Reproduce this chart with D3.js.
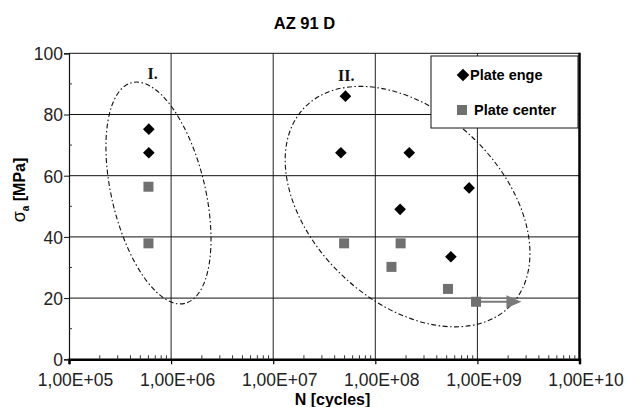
<!DOCTYPE html>
<html>
<head>
<meta charset="utf-8">
<script src="https://cdn.jsdelivr.net/npm/d3@7"></script>
<style>
  html, body { margin: 0; padding: 0; background: #fff; }
  svg { display: block; }
</style>
</head>
<body>
<svg id="chart" width="627" height="407"></svg>
<script>
// ---------------- data ----------------
const title = "AZ 91 D";
const xTickValues = [1e5, 1e6, 1e7, 1e8, 1e9, 1e10];
const xTickLabels = ["1,00E+05", "1,00E+06", "1,00E+07", "1,00E+08", "1,00E+09", "1,00E+10"];
const yTickValues = [0, 20, 40, 60, 80, 100];
const yMinorValues = [10, 30, 50, 70, 90];

const seriesNames = ["Plate enge", "Plate center"];
// Plate enge (diamonds)
const edgeN = [6.05e5, 6.05e5, 5.1e7, 4.6e7, 2.15e8, 1.75e8, 8.3e8, 5.5e8];
const edgeS = [75.2, 67.5, 86.0, 67.5, 67.5, 49.0, 56.0, 33.5];
// Plate center (squares)
const centerN = [6.0e5, 6.0e5, 4.95e7, 1.77e8, 1.44e8, 5.15e8, 9.7e8];
const centerS = [56.4, 37.9, 37.9, 37.9, 30.2, 23.0, 18.8];

// run-out arrow
const arrowN = [9.7e8, 2.7e9];
const arrowS = 18.8;

// grouping ellipses (bounding box in data units + N at topmost point)
const groupLabels = ["I.", "II."];
const groupLabelN = [6.6e5, 5.2e7];
const groupLabelS = [91.5, 91.0];
const ellNMin = [2.3e5, 1.31e7];
const ellNMax = [2.46e6, 3.27e9];
const ellSMin = [18.1, 10.6];
const ellSMax = [90.6, 89.2];
const ellNTop = [4.6e5, 7.1e7];

// ---------------- layout ----------------
const svg = d3.select("#chart");
const L = 69, R = 579.5, T = 53.3, B = 359.3;
const x = d3.scaleLog().domain([1e5, 1e10]).range([L, R]);
const y = d3.scaleLinear().domain([0, 100]).range([B, T]);
const FONT = "'Liberation Sans', Arial, sans-serif";

svg.append("rect").attr("width", 627).attr("height", 407).attr("fill", "#fff");

// gridlines
const grid = svg.append("g");
grid.selectAll("line.v").data(xTickValues.slice(1, -1)).join("line")
  .attr("x1", d => x(d)).attr("x2", d => x(d)).attr("y1", T).attr("y2", B)
  .attr("stroke", "#222").attr("stroke-width", 1);
grid.selectAll("line.h").data(yTickValues.slice(1)).join("line")
  .attr("x1", L).attr("x2", R).attr("y1", d => y(d)).attr("y2", d => y(d))
  .attr("stroke", "#111").attr("stroke-width", 1);
// right border
svg.append("line").attr("x1", R).attr("x2", R).attr("y1", T - 0.5).attr("y2", B)
  .attr("stroke", "#000").attr("stroke-width", 2.5);

// x axis
const xAxisG = svg.append("g").attr("transform", `translate(0,${B})`)
  .call(d3.axisBottom(x).tickValues(xTickValues).tickSize(5).tickFormat((d, i) => xTickLabels[i]));
xAxisG.select(".domain").attr("stroke", "#000").attr("stroke-width", 2.5);
xAxisG.selectAll(".tick line").attr("stroke", "#000").attr("stroke-width", 1.2);
xAxisG.selectAll(".tick text").attr("font-family", FONT).attr("font-size", 17.5)
  .attr("fill", "#222").attr("dx", 6).attr("dy", "0.95em").attr("y", 10);
// x minor ticks (inside)
const minorX = [];
for (let e = 5; e < 10; e++) for (let k = 2; k <= 9; k++) minorX.push(k * Math.pow(10, e));
svg.append("g").selectAll("line").data(minorX).join("line")
  .attr("x1", d => x(d)).attr("x2", d => x(d)).attr("y1", B).attr("y2", B - 4)
  .attr("stroke", "#333").attr("stroke-width", 1);

// y axis
const yAxisG = svg.append("g").attr("transform", `translate(${L},0)`)
  .call(d3.axisLeft(y).tickValues(yTickValues).tickSize(5).tickFormat(d3.format("d")));
yAxisG.select(".domain").attr("stroke", "#111").attr("stroke-width", 1.2);
yAxisG.selectAll(".tick line").attr("stroke", "#111");
yAxisG.selectAll(".tick text").attr("font-family", FONT).attr("font-size", 17.5)
  .attr("fill", "#222").attr("x", -6).attr("dy", "0.36em");
svg.append("g").selectAll("line").data(yMinorValues).join("line")
  .attr("x1", L).attr("x2", L + 3).attr("y1", d => y(d)).attr("y2", d => y(d))
  .attr("stroke", "#333").attr("stroke-width", 1);

// ellipses
groupLabels.forEach((lbl, i) => {
  const x0 = x(ellNMin[i]), x1 = x(ellNMax[i]);
  const yT = y(ellSMax[i]), yB = y(ellSMin[i]);
  const cx = (x0 + x1) / 2, cy = (yT + yB) / 2;
  const W = (x1 - x0) / 2, H = (yB - yT) / 2;
  const dxt = x(ellNTop[i]) - cx;
  const P = -2 * dxt * H, Q = W * W - H * H;
  const D = Math.sqrt(P * P + Q * Q);
  const th = Math.atan2(P, Q) / 2;
  const a = Math.sqrt((W * W + H * H + D) / 2), b = Math.sqrt((W * W + H * H - D) / 2);
  svg.append("ellipse").attr("cx", cx).attr("cy", cy).attr("rx", a).attr("ry", b)
    .attr("transform", `rotate(${th * 180 / Math.PI},${cx},${cy})`)
    .attr("fill", "none").attr("stroke", "#111").attr("stroke-width", 1.1)
    .attr("stroke-dasharray", "5,2.5,1.5,2.5");
  svg.append("text").attr("x", x(groupLabelN[i])).attr("y", y(groupLabelS[i]))
    .attr("text-anchor", "middle").attr("font-family", "'Liberation Serif', 'Times New Roman', serif")
    .attr("font-weight", "bold").attr("font-size", 16).attr("fill", "#111").text(lbl);
});

// arrow
svg.append("line").attr("x1", x(arrowN[0])).attr("x2", x(arrowN[1]) - 12)
  .attr("y1", y(arrowS)).attr("y2", y(arrowS)).attr("stroke", "#7a7a7a").attr("stroke-width", 2);
svg.append("path")
  .attr("d", `M${x(arrowN[1])},${y(arrowS)} L${x(arrowN[1]) - 15},${y(arrowS) - 6.5} L${x(arrowN[1]) - 15},${y(arrowS) + 6.5} Z`)
  .attr("fill", "#7a7a7a");

// points
const diamond = d3.symbol().type(d3.symbolSquare).size(68);
const edgeData = edgeN.map((n, i) => ({ n, s: edgeS[i] }));
const centerData = centerN.map((n, i) => ({ n, s: centerS[i] }));
svg.append("g").selectAll("rect").data(centerData).join("rect")
  .attr("x", d => x(d.n) - 5).attr("y", d => y(d.s) - 5).attr("width", 10).attr("height", 10)
  .attr("fill", "#707070");
svg.append("g").selectAll("path").data(edgeData).join("path")
  .attr("d", diamond)
  .attr("transform", d => `translate(${x(d.n)},${y(d.s)}) rotate(45)`)
  .attr("fill", "#000");

// legend
const lg = svg.append("g");
lg.append("rect").attr("x", 431).attr("y", 56).attr("width", 147).attr("height", 72)
  .attr("fill", "#fff").attr("stroke", "#111").attr("stroke-width", 1);
lg.append("path").attr("d", d3.symbol().type(d3.symbolSquare).size(80))
  .attr("transform", "translate(463,75) rotate(45)").attr("fill", "#000");
lg.append("text").attr("x", 470).attr("y", 80).attr("font-family", FONT).attr("font-weight", "bold")
  .attr("font-size", 14.5).attr("fill", "#000").text(seriesNames[0]);
lg.append("rect").attr("x", 457).attr("y", 105).attr("width", 10).attr("height", 10).attr("fill", "#707070");
lg.append("text").attr("x", 474).attr("y", 115).attr("font-family", FONT).attr("font-weight", "bold")
  .attr("font-size", 14.5).attr("fill", "#000").text(seriesNames[1]);

// title
svg.append("text").attr("x", 304.5).attr("y", 29).attr("text-anchor", "middle")
  .attr("font-family", FONT).attr("font-weight", "bold").attr("font-size", 16.5).attr("fill", "#000")
  .text(title);

// axis titles
svg.append("text").attr("x", 332.5).attr("y", 405).attr("text-anchor", "middle")
  .attr("font-family", FONT).attr("font-weight", "bold").attr("font-size", 16).attr("fill", "#000")
  .text("N [cycles]");
const yt = svg.append("text").attr("transform", "translate(25,190) rotate(-90)")
  .attr("text-anchor", "middle").attr("font-family", FONT).attr("font-weight", "bold")
  .attr("font-size", 16).attr("fill", "#000");
yt.append("tspan").attr("font-weight", "normal").attr("font-size", 18).text("σ");
yt.append("tspan").attr("font-size", 10).attr("dy", 4).text("a");
yt.append("tspan").attr("dy", -4).text(" [MPa]");
</script>
</body>
</html>
